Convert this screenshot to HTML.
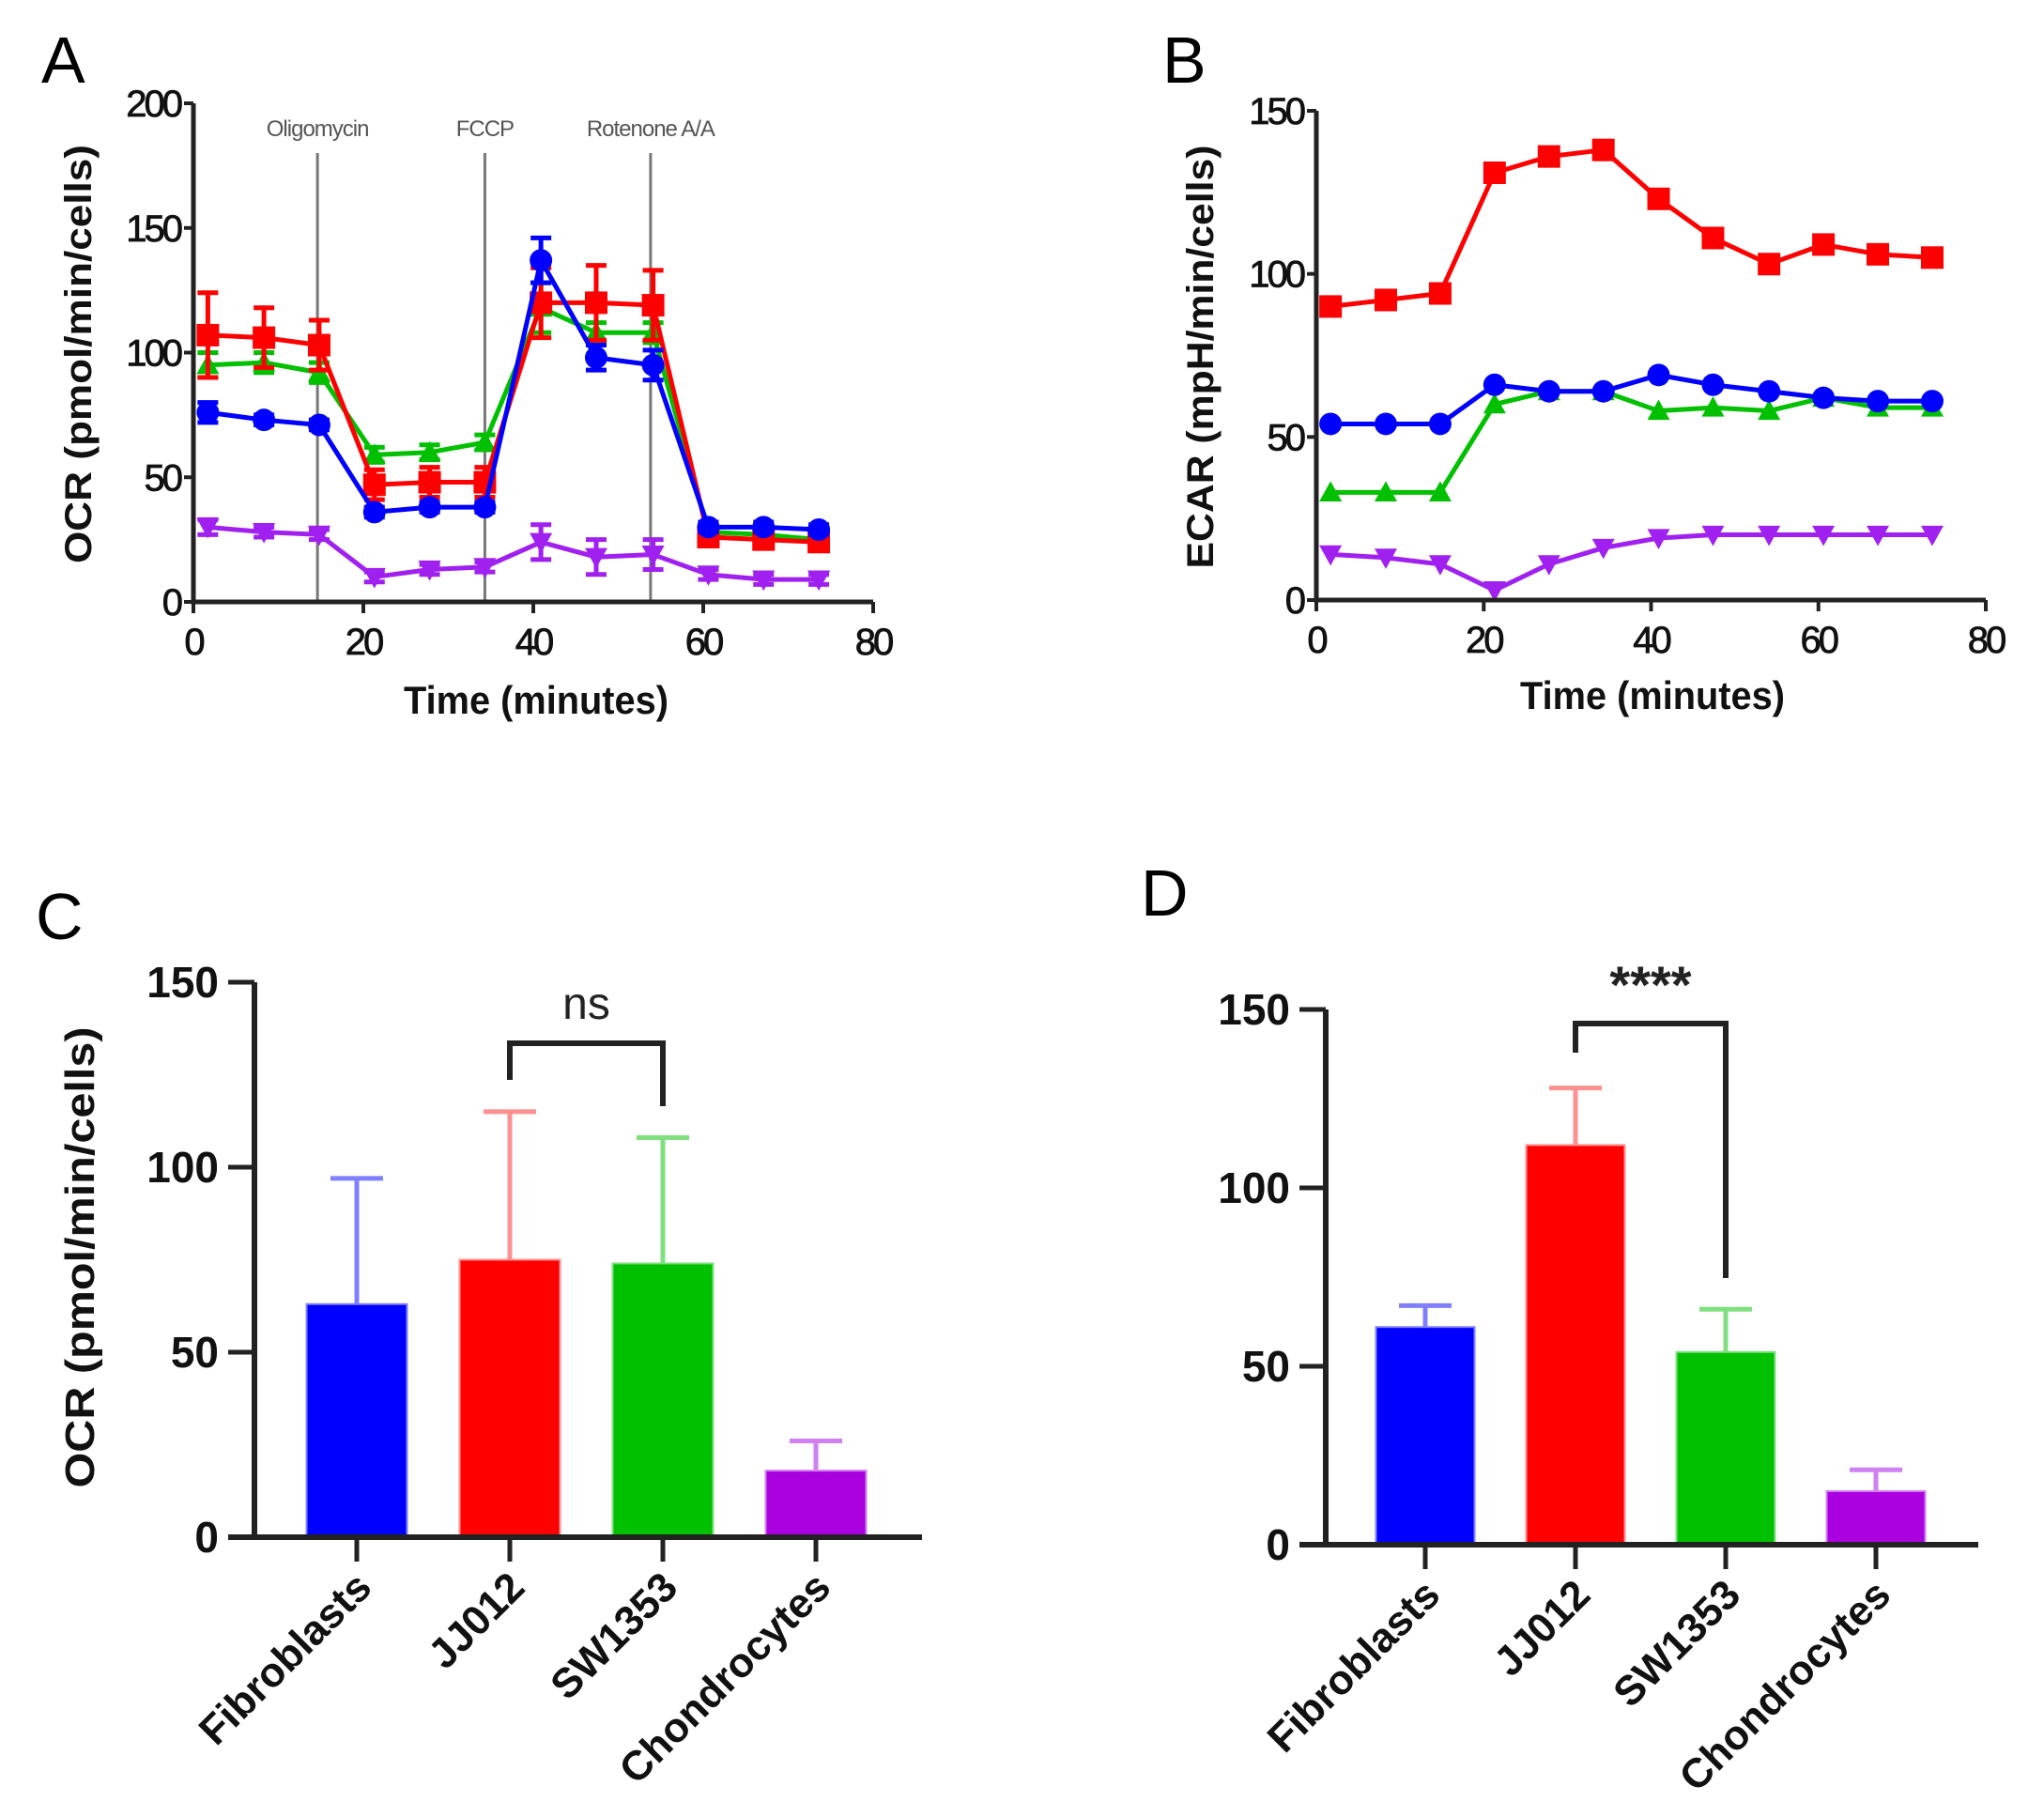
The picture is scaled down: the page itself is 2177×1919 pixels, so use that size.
<!DOCTYPE html>
<html><head><meta charset="utf-8"><style>
html,body{margin:0;padding:0;background:#fff;}
svg{display:block;font-family:"Liberation Sans",Arial,sans-serif;}
</style></head><body>
<svg id="fig" width="2177" height="1919" viewBox="0 0 2177 1919" xmlns="http://www.w3.org/2000/svg">
<g id="pa"></g>
<g id="pb"></g>
<g id="pc"></g>
<g id="pd"></g>
</svg>
<script>
// ---- Data ----
const times = [1.7, 8.3, 14.8, 21.3, 27.8, 34.3, 40.9, 47.4, 54.1, 60.6, 67.1, 73.6];
const ocrRed = [107,106,103,47,48,48,120,120,119,26,25,24];
const ocrRedErr = [17,12,10,6,6,6,14,15,14,2,2,2];
const ocrGreen = [95,96,92,59,60,64,118,108,108,28,27,25];
const ocrGreenErr = [5,4,4,3,3,3,10,4,4,2,2,2];
const ocrBlue = [76,73,71,36,38,38,137,98,95,30,30,29];
const ocrBlueErr = [4,2,2,2,2,2,9,5,6,2,2,2];
const ocrPurple = [30,28,27,10,13,14,24,18,19,11,9,9];
const ocrPurpleErr = [3,2,2,2,2,2,7,7,6,2,2,2];
const injectionTimes = [14.6, 34.3, 53.8];
const injectionNames = ["Oligomycin", "FCCP", "Rotenone A/A"];
const ecarRed = [90,92,94,131,136,138,123,111,103,109,106,105];
const ecarBlue = [54,54,54,66,64,64,69,66,64,62,61,61];
const ecarGreen = [33,33,33,60,64,64,58,59,58,62,59,59];
const ecarPurple = [14,13,11,3,11,16,19,20,20,20,20,20];
const xTicksTime = [0,20,40,60,80];
const yTicksA = [0,50,100,150,200];
const yTicksB = [0,50,100,150];
const categories = ["Fibroblasts","JJ012","SW1353","Chondrocytes"];
const barC = [63,75,74,18];
const barCErrTop = [97,115,108,26];
const barD = [61,112,54,15];
const barDErrTop = [67,128,66,21];
const yTicksBar = [0,50,100,150];

const NS = "http://www.w3.org/2000/svg";
const COL = {blue:"#0000ff", red:"#ff0000", green:"#00c000", purple:"#a020f0", barPurple:"#aa00e0"};
function mk(parent, tag, attrs, text){
  const e = document.createElementNS(NS, tag);
  for (const k in attrs) e.setAttribute(k, attrs[k]);
  if (text !== undefined) e.textContent = text;
  parent.appendChild(e);
  return e;
}
function scale(d0,d1,r0,r1){ return v => r0 + (v-d0)*(r1-r0)/(d1-d0); }

function marker(g, shape, x, y, color){
  let m;
  const s = 12;
  if (shape === "square") m = mk(g,"rect",{x:x-s,y:y-s,width:2*s,height:2*s,fill:color});
  else if (shape === "circle") m = mk(g,"circle",{cx:x,cy:y,r:s,fill:color});
  else if (shape === "up") m = mk(g,"polygon",{points:`${x},${y-s} ${x+s},${y+s*0.8} ${x-s},${y+s*0.8}`,fill:color});
  else m = mk(g,"polygon",{points:`${x-s},${y-s*0.8} ${x+s},${y-s*0.8} ${x},${y+s}`,fill:color});
  
  
}

function lineChart(g, o){
  const sx = scale(0,80,o.x0,o.x1), sy = scale(0,o.ymax,o.y0,o.y1);
  const L = mk(g,"text",{x:o.lx,y:o.ly,"font-size":70,fill:"#000"},o.letter);
  
  
  if (o.inj){
    injectionTimes.forEach((t,i)=>{
      const ln = mk(g,"line",{x1:sx(t),x2:sx(t),y1:o.injTop,y2:o.y0,stroke:"#777","stroke-width":3});
      
      
      const tx = mk(g,"text",{x:sx(t),y:o.injTop-18,"font-size":24,"text-anchor":"middle",fill:"#555","letter-spacing":-1},injectionNames[i]);
      
      
    });
  }
  o.series.forEach(s=>{
    const sg = mk(g,"g",{});
    
    
    if (s.err){
      s.vals.forEach((v,i)=>{
        const e = s.err[i], x = sx(times[i]);
        const eb = mk(sg,"path",{d:`M${x},${sy(v+e)}V${sy(v-e)}M${x-11},${sy(v+e)}H${x+11}M${x-11},${sy(v-e)}H${x+11}`,stroke:s.color,"stroke-width":5,fill:"none"});
        
        
      });
    }
    const pts = s.vals.map((v,i)=>`${sx(times[i])},${sy(v)}`).join(" ");
    const pl = mk(sg,"polyline",{points:pts,fill:"none",stroke:s.color,"stroke-width":5,"stroke-linejoin":"round"});
    
    
    s.vals.forEach((v,i)=>marker(sg,s.shape,sx(times[i]),sy(v),s.color));
  });
  const ax = mk(g,"path",{d:`M${o.x0},${o.y1}V${o.y0}H${o.x1}`,stroke:"#222","stroke-width":5,fill:"none"});
  
  
  o.yticks.forEach(t=>{
    const y = sy(t);
    const tk = mk(g,"line",{x1:o.x0-10,x2:o.x0,y1:y,y2:y,stroke:"#222","stroke-width":4});
    
    
    const tl = mk(g,"text",{x:o.x0-14,y:y+14,"font-size":40,"text-anchor":"end",fill:"#111","letter-spacing":-3,stroke:"#111","stroke-width":0.8},String(t));
    
    
  });
  xTicksTime.forEach(t=>{
    const x = sx(t);
    const tk = mk(g,"line",{x1:x,x2:x,y1:o.y0,y2:o.y0+12,stroke:"#222","stroke-width":4});
    
    
    const tl = mk(g,"text",{x:x,y:o.y0+56,"font-size":40,"text-anchor":"middle",fill:"#111","letter-spacing":-3,stroke:"#111","stroke-width":0.8},String(t));
    
    
  });
  const xt = mk(g,"text",{x:o.xtx,y:o.xty,"font-size":42,"font-weight":"bold","text-anchor":"middle",textLength:282,lengthAdjust:"spacingAndGlyphs",fill:"#111"},"Time (minutes)");
  
  
  const yt = mk(g,"text",{x:0,y:0,"font-size":40,"font-weight":"bold","text-anchor":"middle",textLength:o.ytLen,lengthAdjust:"spacingAndGlyphs",fill:"#111",transform:`translate(${o.ytx},${o.yty}) rotate(-90)`},o.ytitle);
  
  
}

lineChart(document.getElementById("pa"),{
  letter:"A", lx:44, ly:88, x0:206, x1:930, y0:641, y1:110, ymax:200, yticks:yTicksA,
  inj:true, injTop:163, xtx:571, xty:760, ytx:97, yty:377, ytLen:446,
  ytitle:"OCR (pmol/min/cells)",
  series:[
    {name:"purple",vals:ocrPurple,err:ocrPurpleErr,color:COL.purple,shape:"down"},
    {name:"green",vals:ocrGreen,err:ocrGreenErr,color:COL.green,shape:"up"},
    {name:"red",vals:ocrRed,err:ocrRedErr,color:COL.red,shape:"square"},
    {name:"blue",vals:ocrBlue,err:ocrBlueErr,color:COL.blue,shape:"circle"}
  ]
});
lineChart(document.getElementById("pb"),{
  letter:"B", lx:1238, ly:88, x0:1402, x1:2115, y0:639, y1:118, ymax:150, yticks:yTicksB,
  inj:false, xtx:1760, xty:755, ytx:1292, yty:380, ytLen:451,
  ytitle:"ECAR (mpH/min/cells)",
  series:[
    {name:"purple",vals:ecarPurple,color:COL.purple,shape:"down"},
    {name:"green",vals:ecarGreen,color:COL.green,shape:"up"},
    {name:"blue",vals:ecarBlue,color:COL.blue,shape:"circle"},
    {name:"red",vals:ecarRed,color:COL.red,shape:"square"}
  ]
});

function barChart(g, o){
  const sy = scale(0,150,o.y0,o.y1);
  const colors = [COL.blue, COL.red, COL.green, COL.barPurple];
  const errCol = ["#8080ff","#ff9090","#80e080","#d080f0"];
  const L = mk(g,"text",{x:o.lx,y:o.ly,"font-size":70,fill:"#000"},o.letter);
  
  
  o.vals.forEach((v,i)=>{
    const cx = o.cx0 + i*o.step;
    const eb = mk(g,"path",{d:`M${cx},${sy(v)}V${sy(o.err[i])}M${cx-28},${sy(o.err[i])}H${cx+28}`,stroke:errCol[i],"stroke-width":5,fill:"none"});
    
    
    const b = mk(g,"rect",{x:cx-o.bw/2,y:sy(v),width:o.bw,height:o.y0-sy(v),fill:colors[i],stroke:errCol[i],"stroke-width":2});
    
    
    const tk = mk(g,"line",{x1:cx,x2:cx,y1:o.y0,y2:o.y0+26,stroke:"#222","stroke-width":5});
    
    
    const tl = mk(g,"text",{x:0,y:0,"font-size":44,"font-weight":"bold","text-anchor":"end",fill:"#111",transform:`translate(${cx+18},${o.y0+56}) rotate(-45)`},categories[i]);
    
    
  });
  const ax = mk(g,"path",{d:`M${o.x0},${o.y1}V${o.y0}M${o.x0-28},${o.y0}H${o.x1}`,stroke:"#222","stroke-width":6,fill:"none"});
  
  
  yTicksBar.forEach(t=>{
    const y = sy(t);
    const tk = mk(g,"line",{x1:o.x0-28,x2:o.x0,y1:y,y2:y,stroke:"#222","stroke-width":5});
    
    
    const tl = mk(g,"text",{x:o.x0-38,y:y+16,"font-size":46,"font-weight":"bold","text-anchor":"end",fill:"#111"},String(t));
    
    
  });
  if (o.ytitle){
    const yt = mk(g,"text",{x:0,y:0,"font-size":44,"font-weight":"bold","text-anchor":"middle",textLength:491,lengthAdjust:"spacingAndGlyphs",fill:"#111",transform:`translate(${o.ytx},${o.yty}) rotate(-90)`},o.ytitle);
    
    
  }
  const lx = o.cx0 + o.step, rx = o.cx0 + 2*o.step;
  const br = mk(g,"path",{d:`M${lx},${o.bl}V${o.by}H${rx}V${o.br}`,stroke:"#222","stroke-width":6,fill:"none"});
  
  
  const st = mk(g,"text",{x:(lx+rx)/2,y:o.sy,"font-size":o.sfs,"text-anchor":"middle",fill:"#222","font-weight":o.sfw},o.sig);
  
  
}
barChart(document.getElementById("pc"),{
  letter:"C", lx:38, ly:1000, x0:271, x1:982, y0:1637, y1:1046,
  cx0:380, step:163, bw:107, vals:barC, err:barCErrTop,
  ytitle:"OCR (pmol/min/cells)", ytx:100, yty:1339,
  by:1111, bl:1150, br:1178, sig:"ns", sy:1085, sfs:48, sfw:"normal"
});
barChart(document.getElementById("pd"),{
  letter:"D", lx:1215, ly:975, x0:1412, x1:2107, y0:1645, y1:1075,
  cx0:1518, step:160, bw:105, vals:barD, err:barDErrTop,
  by:1090, bl:1121, br:1361, sig:"****", sy:1068, sfs:56, sfw:"bold"
});
</script>
</body></html>
